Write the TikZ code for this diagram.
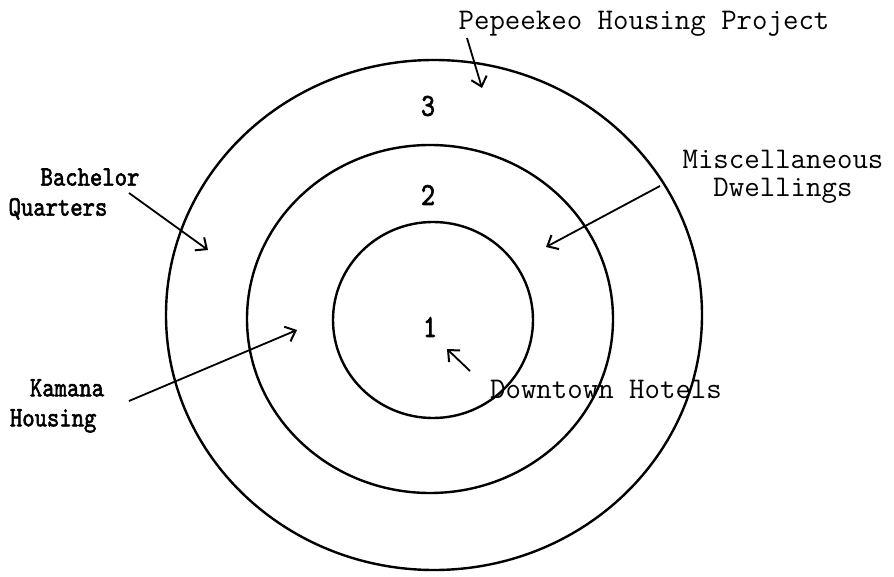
\documentclass[tikz,border=0pt]{standalone}
\usepackage{fontspec}
\newfontfamily\stampfont{lmmono10-regular.otf}[FakeBold=2, FakeStretch=0.84]
\usepackage{tikz}
\usetikzlibrary{arrows.meta, positioning, shapes.geometric}

\begin{document}
\begin{tikzpicture}[
  x=1pt, y=-1pt,
  ring/.style={ellipse, draw, line width=2.4pt, inner sep=0pt},
  typed/.style={font=\fontsize{30}{28}\selectfont\ttfamily, align=center, inner sep=0pt},
  stamped/.style={font=\fontsize{28}{30}\selectfont\stampfont, align=left, inner sep=0pt},
  zonenum/.style={font=\fontsize{32}{32}\selectfont\stampfont, inner sep=0pt},
  arrow/.style={-{Straight Barb[length=9pt, width=16pt, line width=2pt]}, line width=1.8pt}
]
  \useasboundingbox (0,0) rectangle (894,577);

  % zones
  \node[ring, minimum width=536pt, minimum height=510pt] (zone3) at (434,315) {};
  \node[ring, minimum width=366pt, minimum height=348pt] (zone2) at (430,319) {};
  \node[ring, minimum width=200pt, minimum height=196pt] (zone1) at (433,320) {};

  \node[zonenum] (num3) at (428,106) {3};
  \node[zonenum] (num2) at (428,195) {2};
  \node[zonenum] (num1) at (430,327) {1};

  % labels
  \node[typed] (pepeekeo) at (644,24) {Pepeekeo Housing Project};
  \node[typed] (misc) at (783,177) {Miscellaneous\\Dwellings};
  \node[typed] (downtown) at (606,389) {Downtown Hotels};
  \node[stamped] (bachelor) at (74,194) {\hspace*{32pt}Bachelor\\Quarters};
  \node[stamped] (kamana) at (57,406) {\hspace*{20pt}Kamana\\Housing};

  % arrow ends
  \coordinate (pepeekeotail) at (467,38);
  \coordinate (pepeekeohead) at (482,88);
  \coordinate (misctail) at (660,186);
  \coordinate (mischead) at (546,247);
  \coordinate (downtowntail) at (470,371);
  \coordinate (downtownhead) at (447,349);
  \coordinate (bachelortail) at (129,193);
  \coordinate (bachelorhead) at (208,250);
  \coordinate (kamanatail) at (129,401);
  \coordinate (kamanahead) at (297,330);

  \draw[arrow] (pepeekeotail) -- (pepeekeohead);
  \draw[arrow] (misctail) -- (mischead);
  \draw[arrow] (downtowntail) -- (downtownhead);
  \draw[arrow] (bachelortail) -- (bachelorhead);
  \draw[arrow] (kamanatail) -- (kamanahead);
\end{tikzpicture}
\end{document}
